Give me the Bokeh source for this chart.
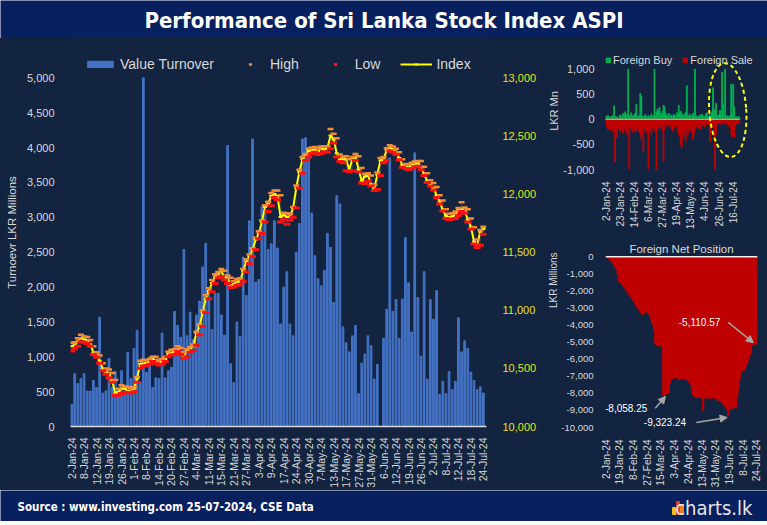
import numpy as np
from bokeh.plotting import figure
from bokeh.models import (Range1d, LinearAxis, Legend, LegendItem, Span, Label, Title,
                          Arrow, NormalHead, FixedTicker, NumeralTickFormatter)
from bokeh.layouts import column, row
from bokeh.embed import file_html
from bokeh.resources import INLINE

# ---------------- data ----------------
left_tick_labels = ["2-Jan-24", "8-Jan-24", "12-Jan-24", "19-Jan-24", "26-Jan-24", "1-Feb-24",
                    "8-Feb-24", "14-Feb-24", "20-Feb-24", "27-Feb-24", "4-Mar-24", "11-Mar-24",
                    "15-Mar-24", "21-Mar-24", "27-Mar-24", "3-Apr-24", "9-Apr-24", "17-Apr-24",
                    "24-Apr-24", "30-Apr-24", "7-May-24", "13-May-24", "17-May-24", "27-May-24",
                    "31-May-24", "6-Jun-24", "12-Jun-24", "19-Jun-24", "26-Jun-24", "2-Jul-24",
                    "8-Jul-24", "12-Jul-24", "18-Jul-24", "24-Jul-24"]
fb_tick_labels = ["2-Jan-24", "23-Jan-24", "14-Feb-24", "6-Mar-24", "27-Mar-24", "19-Apr-24",
                  "13-May-24", "4-Jun-24", "26-Jun-24", "16-Jul-24"]
net_tick_labels = ["2-Jan-24", "19-Jan-24", "8-Feb-24", "27-Feb-24", "15-Mar-24", "3-Apr-24",
                   "24-Apr-24", "13-May-24", "31-May-24", "19-Jun-24", "8-Jul-24", "24-Jul-24"]

turnover = [320, 758, 617, 688, 758, 508, 508, 664, 560, 1568,
            480, 510, 975, 560, 790, 470, 800, 500, 1060, 690,
            1120, 1380, 640, 5000, 780, 1000, 560, 700, 690, 1340,
            700, 800, 850, 1650, 1450, 1280, 2540, 1300, 1640, 1250,
            1600, 1800, 2290, 2627, 1910, 1390, 1910, 1910, 1600, 1310,
            4030, 900, 630, 1500, 1290, 2430, 1880, 2950, 4124, 2070,
            2110, 3160, 3050, 2540, 2620, 2950, 2560, 1470, 2000, 2220,
            1470, 1300, 2500, 2910, 4124, 4140, 4000, 3060, 2450, 2120,
            2020, 2240, 2770, 2570, 1780, 3310, 3190, 1430, 1200, 1070,
            1300, 1450, 470, 910, 1040, 1300, 1160, 680, 890, 0,
            1265, 1680, 3850, 1650, 1820, 1265, 1830, 2710, 2060, 1355,
            3925, 1850, 1010, 2220, 680, 1820, 1540, 1950, 460, 650,
            470, 790, 530, 650, 1560, 1070, 1230, 1120, 780, 660,
            530, 570, 480]

index_close = [10691, 10700, 10734, 10761, 10750, 10740, 10708, 10635, 10620, 10565,
               10497, 10470, 10455, 10396, 10284, 10298, 10326, 10326, 10305, 10305,
               10326, 10413, 10540, 10540, 10548, 10556, 10580, 10565, 10548, 10556,
               10580, 10630, 10635, 10641, 10663, 10635, 10607, 10649, 10670, 10691,
               10804, 10860, 10980, 11100, 11165, 11235, 11290, 11315, 11335, 11285,
               11280, 11215, 11225, 11245, 11250, 11340, 11420, 11465, 11520, 11610,
               11660, 11760, 11890, 11914, 11985, 12000, 11980, 11802, 11820, 11805,
               11805, 11880, 12050, 12190, 12300, 12330, 12370, 12380, 12383, 12365,
               12395, 12383, 12395, 12505, 12470, 12352, 12300, 12299, 12300, 12210,
               12300, 12322, 12212, 12112, 12152, 12160, 12085, 12045, 12167, 12290,
               12298, 12378, 12400, 12383, 12365, 12310, 12251, 12235, 12230, 12248,
               12262, 12265, 12233, 12170, 12115, 12084, 12052, 11990, 11937, 11860,
               11813, 11802, 11808, 11822, 11866, 11872, 11855, 11780, 11720, 11590,
               11565, 11675, 11700]

index_high = [10720, 10725, 10760, 10790, 10775, 10770, 10745, 10690, 10640, 10610,
              10545, 10500, 10490, 10460, 10400, 10325, 10355, 10345, 10340, 10330,
              10340, 10425, 10565, 10575, 10570, 10580, 10600, 10600, 10575, 10580,
              10600, 10645, 10660, 10665, 10690, 10675, 10640, 10665, 10685, 10705,
              10815, 10880, 11000, 11130, 11190, 11260, 11310, 11330, 11355, 11340,
              11300, 11280, 11250, 11270, 11275, 11355, 11440, 11480, 11535, 11625,
              11680, 11775, 11905, 11935, 12010, 12030, 12030, 11990, 11840, 11835,
              11830, 11890, 12075, 12210, 12320, 12345, 12390, 12400, 12405, 12395,
              12410, 12410, 12410, 12560, 12520, 12480, 12340, 12320, 12325, 12300,
              12320, 12345, 12325, 12225, 12175, 12180, 12160, 12080, 12185, 12310,
              12320, 12395, 12420, 12410, 12390, 12360, 12300, 12260, 12255, 12270,
              12280, 12285, 12285, 12235, 12180, 12120, 12095, 12060, 11990, 11945,
              11870, 11830, 11835, 11850, 11880, 11930, 11885, 11870, 11790, 11715,
              11610, 11690, 11720]

index_low = [10650, 10670, 10690, 10730, 10725, 10715, 10690, 10620, 10595, 10545,
             10480, 10450, 10420, 10380, 10270, 10270, 10285, 10295, 10290, 10290,
             10300, 10380, 10500, 10520, 10525, 10535, 10560, 10545, 10530, 10535,
             10560, 10600, 10615, 10620, 10645, 10620, 10590, 10600, 10640, 10655,
             10700, 10790, 10860, 10980, 11100, 11160, 11230, 11280, 11290, 11260,
             11230, 11195, 11200, 11215, 11220, 11250, 11330, 11400, 11460, 11520,
             11615, 11660, 11760, 11850, 11900, 11970, 11950, 11760, 11780, 11740,
             11775, 11800, 11880, 12050, 12180, 12290, 12320, 12350, 12360, 12340,
             12350, 12365, 12360, 12390, 12440, 12320, 12280, 12270, 12200, 12195,
             12200, 12290, 12190, 12095, 12090, 12110, 12070, 12030, 12040, 12160,
             12270, 12290, 12370, 12360, 12340, 12295, 12230, 12220, 12210, 12220,
             12235, 12240, 12210, 12160, 12100, 12070, 12035, 11970, 11915, 11855,
             11790, 11780, 11785, 11790, 11815, 11850, 11835, 11760, 11700, 11570,
             11540, 11560, 11655]

foreign_buy = [60, 40, 80, 30, 50, 20, 70, 40, 270, 60,
               30, 50, 20, 40, 90, 60, 30, 120, 80, 150,
               100, 60, 1000, 80, 40, 130, 70, 50, 90, 120,
               300, 60, 40, 80, 520, 450, 60, 30, 70, 90,
               50, 40, 80, 30, 60, 110, 40, 70, 1000, 60,
               150, 210, 180, 240, 120, 90, 160, 280, 250, 130,
               80, 60, 120, 40, 90, 70, 50, 100, 80, 60,
               130, 90, 280, 120, 160, 70, 110, 60, 90, 140,
               670, 80, 50, 100, 40, 70, 120, 60, 1000, 80,
               40, 60, 30, 90, 50, 100, 70, 40, 60, 110,
               130, 60, 50, 90, 80, 150, 630, 200, 120, 320,
               60, 80, 90, 180, 120, 940, 300, 60, 1000, 50,
               70, 40, 60, 80, 700, 90, 700, 250, 40, 50,
               30, 60, 40]

foreign_sale = [-150, -120, -200, -180, -90, -220, -160, -250, -140, -850,
                -200, -360, -180, -150, -250, -120, -200, -280, -160, -230,
                -190, -300, -220, -1000, -150, -180, -260, -120, -200, -240,
                -160, -230, -190, -250, -300, -400, -280, -650, -170, -220,
                -260, -180, -1000, -240, -200, -300, -150, -220, -180, -250,
                -1000, -200, -150, -180, -120, -160, -240, -850, -200, -140,
                -100, -130, -90, -160, -120, -200, -250, -180, -140, -110,
                -150, -250, -300, -350, -500, -560, -400, -300, -250, -430,
                -200, -300, -180, -250, -150, -220, -400, -300, -200, -150,
                -120, -180, -100, -150, -200, -90, -130, -110, -160, -80,
                -100, -60, -120, -450, -200, -80, -150, -100, -1000, -300,
                -120, -80, -60, -100, -50, -90, -70, -60, -80, -100,
                -60, -90, -150, -120, -300, -350, -200, -350, -120, -90,
                -80, -60, -70]

net_position = [-20, -60, -90, -120, -230, -300, -380, -500, -620, -760,
                -1000, -1420, -1480, -1560, -1650, -1720, -1800, -1900, -1990, -2090,
                -2200, -2280, -2370, -2500, -2620, -2750, -2850, -2950, -3050, -3130,
                -3250, -3320, -3380, -3300, -3130, -3150, -3250, -3320, -3400, -3600,
                -3900, -4000, -4300, -5100, -5150, -5200, -5220, -5200, -5230, -5250,
                -8100, -8120, -8058.25, -8000, -7980, -7950, -7400, -7200, -7150, -7100,
                -7100, -7050, -7100, -7150, -7200, -7150, -7100, -7150, -7200, -7150,
                -7150, -7200, -7300, -7380, -7450, -7800, -8100, -8150, -8200, -8250,
                -8250, -8200, -8200, -8250, -8300, -9000, -8250, -8250, -8300, -8280,
                -8250, -8280, -8300, -8260, -8250, -8280, -8300, -8350, -8400, -8420,
                -8450, -8500, -8600, -8700, -8750, -8850, -8900, -9323.24, -8950, -8850,
                -8900, -8850, -8800, -8820, -8850, -8200, -7780, -7200, -6750, -6700,
                -6650, -6640, -6500, -6300, -6170, -6000, -5750, -5700, -5200, -5150,
                -5120, -5110, -5110.57]

# ---------------- styles ----------------
BG = "#12243f"
BAND = "#08205e"
GRAY = "#d9d9d9"
YEL_AX = "#e3e31a"
GREEN = "#00b050"
RED = "#c00000"
FONT = "Liberation Sans"
NARROW = "'Liberation Sans Narrow', 'DejaVu Sans Condensed', sans-serif"

days = list(range(len(index_close)))
N = len(days)


def base_fig(**kw):
    f = figure(output_backend="svg", toolbar_location=None, **kw)
    f.background_fill_color = BG
    f.border_fill_color = BG
    f.outline_line_color = None
    f.xgrid.visible = False
    f.ygrid.visible = False
    return f


def style_axis(ax, size, color=GRAY):
    ax.major_label_text_color = color
    ax.major_label_text_font = FONT
    ax.major_label_text_font_size = size
    ax.major_tick_line_color = None
    ax.minor_tick_line_color = None
    ax.axis_line_color = None


def style_legend(lg, size):
    lg.background_fill_alpha = 0
    lg.border_line_color = None
    lg.label_text_color = GRAY
    lg.label_text_font = FONT
    lg.label_text_font_size = size
    lg.padding = 0
    lg.margin = 0


# ---------------- left: turnover + index ----------------
TURN_TOP = 5000 * 394 / 354
IDX_TOP = 10000 + 3000 * 394 / 354
p = base_fig(width=545, height=452, x_range=Range1d(-0.35, 133), y_range=Range1d(0, TURN_TOP),
             min_border_left=70, min_border_right=59, min_border_top=0, min_border_bottom=58)
p.extra_y_ranges = {"idx": Range1d(10000, IDX_TOP)}

bars = p.vbar(x=days, top=turnover, width=0.55, color="#4472c4")
p.segment(days, index_low, days, index_high, y_range_name="idx", line_color="#3a3a3a", line_width=1)
idx_line = p.line(days, index_close, y_range_name="idx", line_color="#ffff00", line_width=2)
idx_mark = p.scatter(days, index_close, y_range_name="idx", marker="dash", size=4,
                     line_color="#ffff00", line_width=2)
hi = p.scatter(days, index_high, y_range_name="idx", marker="dash", size=6,
               line_color="#f28c38", line_width=2.5)
lo = p.scatter(days, index_low, y_range_name="idx", marker="dash", size=7,
               line_color="#ff1010", line_width=3)

ly = p.yaxis[0]
style_axis(ly, "11px")
ly.ticker = FixedTicker(ticks=list(range(0, 5001, 500)))
ly.formatter = NumeralTickFormatter(format="0,0")
ly.major_label_standoff = 10
ly.axis_label = "Turnoevr LKR Millions"
ly.axis_label_text_color = GRAY
ly.axis_label_text_font = FONT
ly.axis_label_text_font_size = "11.5px"
ly.axis_label_text_font_style = "normal"
ly.axis_label_standoff = 6

ry = LinearAxis(y_range_name="idx", ticker=FixedTicker(ticks=list(range(10000, 13001, 500))),
                formatter=NumeralTickFormatter(format="0,0"))
style_axis(ry, "11px", YEL_AX)
ry.major_label_standoff = 10
p.add_layout(ry, "right")

bx = p.xaxis[0]
style_axis(bx, "10.5px")
bx.axis_line_color = GRAY
bx.axis_line_width = 1.5
bx.ticker = FixedTicker(ticks=list(range(0, N, 4)))
bx.major_label_overrides = {i * 4: lab for i, lab in enumerate(left_tick_labels)}
bx.major_label_orientation = np.pi / 2
bx.major_label_standoff = 5

leg = Legend(items=[LegendItem(label="Value Turnover", renderers=[bars]),
                    LegendItem(label="High", renderers=[hi]),
                    LegendItem(label="Low", renderers=[lo]),
                    LegendItem(label="Index", renderers=[idx_line, idx_mark])],
             orientation="horizontal", location=(14, 354))
style_legend(leg, "14px")
leg.glyph_width = 32
leg.glyph_height = 8
leg.label_height = 14
leg.label_standoff = 4
leg.spacing = 20
p.add_layout(leg)

# ---------------- top right: foreign buy / sale ----------------
q = base_fig(width=222, height=194, x_range=Range1d(-0.5, 150.0), y_range=Range1d(-1000, 1333),
             min_border_left=58, min_border_right=5, min_border_top=14, min_border_bottom=54)
gb = q.vbar(x=days, top=foreign_buy, bottom=0, width=0.8, color=GREEN)
rs = q.vbar(x=days, top=0, bottom=foreign_sale, width=0.8, color=RED)
q.segment(x0=[-0.5], y0=[0], x1=[N - 0.5], y1=[0], line_color="#bfbfbf", line_width=1)
q.ellipse(x=[120.5], y=[185], width=37, height=94, angle=0.07,
          width_units="screen", height_units="screen",
          fill_alpha=0, line_color="#ffff00", line_dash="4 3", line_width=2)

qy = q.yaxis[0]
style_axis(qy, "11px")
qy.ticker = FixedTicker(ticks=[-1000, -500, 0, 500, 1000])
qy.formatter = NumeralTickFormatter(format="0,0")
qy.major_label_standoff = 5
qy.axis_label = "LKR Mn"
qy.axis_label_text_color = GRAY
qy.axis_label_text_font = FONT
qy.axis_label_text_font_size = "11px"
qy.axis_label_text_font_style = "normal"
qy.axis_label_standoff = 0
qx = q.xaxis[0]
style_axis(qx, "10px")
qx.ticker = FixedTicker(ticks=list(range(0, N, 14)))
qx.major_label_overrides = {i * 14: lab for i, lab in enumerate(fb_tick_labels)}
qx.major_label_orientation = np.pi / 2
qx.major_label_standoff = 6

leg2 = Legend(items=[LegendItem(label="Foreign Buy", renderers=[gb]),
                     LegendItem(label="Foreign Sale", renderers=[rs])],
              orientation="horizontal", location=(0, 102))
style_legend(leg2, "11px")
leg2.glyph_width = 6
leg2.glyph_height = 6
leg2.label_height = 14
leg2.label_standoff = 2
leg2.spacing = 10
q.add_layout(leg2)

# ---------------- bottom right: foreign net position ----------------
r = base_fig(width=222, height=258, x_range=Range1d(-0.6, 132.6), y_range=Range1d(-10000, 953),
             min_border_left=58, min_border_right=10, min_border_top=8, min_border_bottom=58)
r.vbar(x=days, top=0, bottom=net_position, width=0.95, color=RED)
r.add_layout(Span(location=0, dimension="width", line_color="#f0f0f0", line_width=1.5))
rax = r.yaxis[0]
style_axis(rax, "9.5px")
rax.ticker = FixedTicker(ticks=list(range(-10000, 1, 1000)))
rax.formatter = NumeralTickFormatter(format="0,0")
rax.major_label_standoff = 6
rbx = r.xaxis[0]
style_axis(rbx, "10px")
rbx.ticker = FixedTicker(ticks=list(range(0, N, 12)))
rbx.major_label_overrides = {i * 12: lab for i, lab in enumerate(net_tick_labels)}
rbx.major_label_orientation = np.pi / 2
rbx.major_label_standoff = 6
r.add_layout(Label(x=(N - 1) / 2, y=440, text="Foreign Net Position", text_align="center",
                   text_baseline="middle", text_color=GRAY, text_font=FONT,
                   text_font_size="11.5px"))
r.add_layout(Title(text="LKR Millions", align="right", offset=12, standoff=0, text_color=GRAY,
                   text_font=FONT, text_font_size="10px", text_font_style="normal"), "left")

net_arr = np.array(net_position)
i_drop = 52
i_min = int(np.argmin(net_arr))
i_last = N - 1
# (index, text-x offset, text-y offset, arrow start offsets, arrow end offsets)
annots = [(i_drop, -16, -800, -9, -820, 0, -120),
          (i_min, -37, -350, -28, -380, -1, -90),
          (i_last, -32, 1270, -25, 1270, -3, 75)]
for i, tx, ty, sx, sy, ex, ey in annots:
    v = net_position[i]
    r.add_layout(Label(x=i + tx, y=v + ty, text=f"{v:,.2f}", text_align="right",
                       text_baseline="middle", text_color="white", text_font=FONT,
                       text_font_size="10px"))
    r.add_layout(Arrow(end=NormalHead(size=7, fill_color="#a6a6a6", line_color="#a6a6a6"),
                       x_start=i + sx, y_start=v + sy, x_end=i + ex, y_end=v + ey,
                       line_color="#a6a6a6", line_width=1.5))

# ---------------- title & footer ----------------
t = figure(width=767, height=38, x_range=Range1d(0, 767), y_range=Range1d(0, 38),
           output_backend="svg", toolbar_location=None, x_axis_location=None,
           y_axis_location=None, min_border=0)
t.background_fill_color = BAND
t.border_fill_color = BAND
t.outline_line_color = None
t.grid.visible = False
t.add_layout(Label(x=383.5, y=18, text="Performance of Sri Lanka Stock Index ASPI",
                   text_align="center", text_baseline="middle", text_color="white",
                   text_font=NARROW, text_font_style="bold", text_font_size="22px"))

ft = figure(width=767, height=31, x_range=Range1d(0, 767), y_range=Range1d(0, 31),
            output_backend="svg", toolbar_location=None, x_axis_location=None,
            y_axis_location=None, min_border=0)
ft.background_fill_color = BAND
ft.border_fill_color = BAND
ft.outline_line_color = None
ft.grid.visible = False
ft.add_layout(Label(x=17, y=15, text="Source : www.investing.com 25-07-2024, CSE Data",
                    text_align="left", text_baseline="middle", text_color="white",
                    text_font=NARROW, text_font_style="bold", text_font_size="11.5px"))
ft.add_layout(Label(x=752, y=14, text="charts.lk", text_align="right", text_baseline="middle",
                    text_color="#e6e6e6", text_font=NARROW, text_font_size="20px"))
ft.quad(left=[672, 676, 680], right=[675, 679, 683], bottom=[7, 7, 7], top=[14, 20, 17],
        color=["#f0c020", "#e04020", "#f08030"])

right_col = column(q, r, spacing=0, styles={"background-color": BG})
mid = row(p, right_col, spacing=0, styles={"background-color": BG})
layout = column(t, mid, ft, spacing=0)
open("out.html", "w").write(file_html(layout, INLINE))
